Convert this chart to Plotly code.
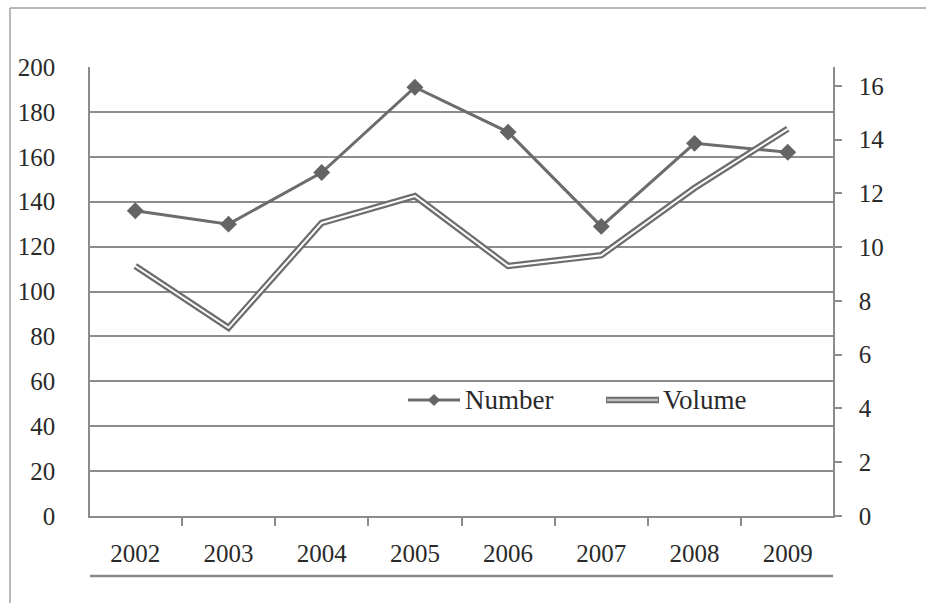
import plotly.graph_objects as go

# Yearly series: count (left axis) and volume (right axis)
years = ["2002", "2003", "2004", "2005", "2006", "2007", "2008", "2009"]
number = [136, 130, 153, 191, 171, 129, 166, 162]
volume = [9.3, 7.0, 10.9, 11.9, 9.3, 9.7, 12.2, 14.4]

left_ticks = list(range(0, 201, 20))
right_ticks = list(range(0, 17, 2))

FONT = "Liberation Serif"
TXT = "#2a2a2a"
GRID = "#8c8c8c"
LINE = "#6c6c6c"
VOL = "#6e6e6e"

W, H = 926, 603
L, R, T, B = 90, 93, 67, 87
PW, PH = W - L - R, H - T - B


def px_x(px):
    return (px - L) / PW


def px_y(py):
    return (H - B - py) / PH


fig = go.Figure()

# Number: solid line with diamond markers
fig.add_trace(go.Scatter(
    x=years, y=number, mode="lines+markers", name="Number",
    line=dict(color=LINE, width=3),
    marker=dict(symbol="diamond", size=13, color="#646464"),
    yaxis="y", showlegend=False,
))

# Volume: double line (thick grey stroke with a thin white core)
fig.add_trace(go.Scatter(
    x=years, y=volume, mode="lines", name="Volume",
    line=dict(color=VOL, width=6.5),
    yaxis="y2", showlegend=False,
))
fig.add_trace(go.Scatter(
    x=years, y=volume, mode="lines", name="Volume core",
    line=dict(color="white", width=2),
    yaxis="y2", showlegend=False, hoverinfo="skip",
))

shapes = []
annotations = []

# Hand-drawn legend in the lower middle of the plot
ly = px_y(400)
shapes.append(dict(type="line", xref="paper", yref="paper",
                   x0=px_x(408), x1=px_x(460), y0=ly, y1=ly,
                   line=dict(color=LINE, width=3)))
cx, cy = 434, 400
shapes.append(dict(type="path", xref="paper", yref="paper",
                   path=(f"M {px_x(cx - 6)} {ly} L {px_x(cx)} {px_y(cy - 6)} "
                         f"L {px_x(cx + 6)} {ly} L {px_x(cx)} {px_y(cy + 6)} Z"),
                   fillcolor="#646464", line=dict(width=0)))
annotations.append(dict(text="Number", xref="paper", yref="paper",
                        x=px_x(463), y=ly, xanchor="left", yanchor="middle",
                        showarrow=False, font=dict(family=FONT, size=27, color=TXT)))
shapes.append(dict(type="line", xref="paper", yref="paper",
                   x0=px_x(606), x1=px_x(659), y0=ly, y1=ly,
                   line=dict(color=VOL, width=6.5)))
shapes.append(dict(type="line", xref="paper", yref="paper",
                   x0=px_x(607), x1=px_x(658), y0=ly, y1=ly,
                   line=dict(color="#bdbdbd", width=2.5)))
annotations.append(dict(text="Volume", xref="paper", yref="paper",
                        x=px_x(661), y=ly, xanchor="left", yanchor="middle",
                        showarrow=False, font=dict(family=FONT, size=27, color=TXT)))

# Rule under the category labels
shapes.append(dict(type="line", xref="paper", yref="paper",
                   x0=0, x1=1, y0=px_y(576), y1=px_y(576),
                   line=dict(color="#8a8a8a", width=2.5)))

# Chart frame: left and top edges
shapes.append(dict(type="line", xref="paper", yref="paper",
                   x0=px_x(10), x1=px_x(10), y0=px_y(8), y1=px_y(605),
                   line=dict(color="#a0a0a0", width=1.5)))
shapes.append(dict(type="line", xref="paper", yref="paper",
                   x0=px_x(10), x1=px_x(930), y0=px_y(8), y1=px_y(8),
                   line=dict(color="#a0a0a0", width=1.5)))

fig.update_layout(
    width=W, height=H,
    margin=dict(l=L, r=R, t=T, b=B, pad=0),
    paper_bgcolor="white", plot_bgcolor="white",
    font=dict(family=FONT, size=25, color=TXT),
    showlegend=False,
    shapes=shapes,
    annotations=annotations,
    xaxis=dict(
        type="category", categoryorder="array", categoryarray=years,
        showgrid=False, showline=True, linecolor=GRID, linewidth=2,
        ticks="outside", tickson="boundaries", ticklen=8, tickwidth=1.5,
        tickcolor=GRID, ticklabelstandoff=14,
        tickfont=dict(family=FONT, size=25, color=TXT),
        zeroline=False, fixedrange=True,
    ),
    yaxis=dict(
        range=[0, 200], tickvals=left_ticks,
        showgrid=True, gridcolor=GRID, gridwidth=1.5,
        showline=True, linecolor=GRID, linewidth=1.5, mirror=False,
        ticks="", ticklabelstandoff=28,
        tickfont=dict(family=FONT, size=25, color=TXT),
        zeroline=False, fixedrange=True,
    ),
    yaxis2=dict(
        overlaying="y", side="right",
        range=[0, 16.7], tickvals=right_ticks,
        showgrid=False, showline=True, linecolor=GRID, linewidth=1.5,
        ticks="outside", ticklen=7, tickwidth=1.5, tickcolor=GRID,
        ticklabelstandoff=12,
        tickfont=dict(family=FONT, size=25, color=TXT),
        zeroline=False, fixedrange=True,
    ),
)

fig.write_html("out.html")
